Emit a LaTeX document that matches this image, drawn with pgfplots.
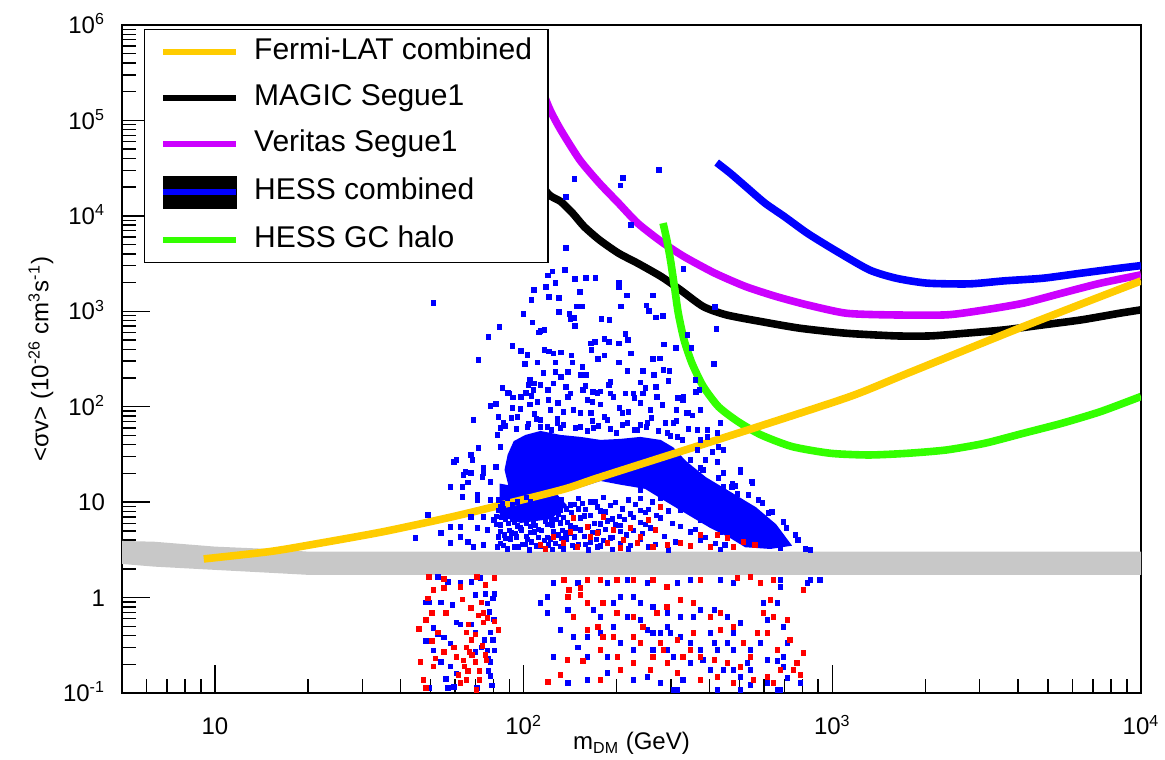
\documentclass[border=0pt]{standalone}
\usepackage{fontspec}
\setmainfont{Liberation Sans}
\usepackage{pgfplots}
\pgfplotsset{compat=1.18}
\definecolor{fermi}{HTML}{FFCC00}
\definecolor{veritas}{HTML}{CC00FF}
\definecolor{gchalo}{HTML}{33FF00}
\definecolor{hessblue}{HTML}{0000FF}
\definecolor{bandgray}{HTML}{C8C8C8}
\definecolor{ptblue}{HTML}{0000FF}
\definecolor{ptred}{HTML}{FF0000}
\begin{document}
\begin{tikzpicture}
\begin{axis}[
  scale only axis, width=509.5pt, height=334pt,
  xmode=log, ymode=log,
  xmin=5, xmax=10000, ymin=0.1, ymax=1000000,
  axis line style={line width=0.8pt},
  tick style={line width=0.7pt, black},
  tick align=inside, xtick pos=bottom, ytick pos=left,
  major tick length=14pt, minor tick length=7pt,
  xtick={10,100,1000,10000},
  xticklabels={10,10\textsuperscript{2},10\textsuperscript{3},10\textsuperscript{4}},
  minor xtick={6,7,8,9,20,30,40,50,60,70,80,90,200,300,400,500,600,700,800,900,2000,3000,4000,5000,6000,7000,8000,9000},
  ytick={0.1,1,10,100,1000,10000,100000,1000000},
  yticklabels={10\textsuperscript{-1},1,10,10\textsuperscript{2},10\textsuperscript{3},10\textsuperscript{4},10\textsuperscript{5},10\textsuperscript{6}},
  minor ytick={0.2,0.3,0.4,0.5,0.6,0.7,0.8,0.9,2,3,4,5,6,7,8,9,20,30,40,50,60,70,80,90,200,300,400,500,600,700,800,900,2000,3000,4000,5000,6000,7000,8000,9000,20000,30000,40000,50000,60000,70000,80000,90000,200000,300000,400000,500000,600000,700000,800000,900000},
  ticklabel style={font=\fontsize{12}{14}\selectfont},
  xticklabel style={anchor=base, yshift=-21pt},
  yticklabel style={anchor=base east, xshift=-5pt, yshift=-4.3pt},
  label style={font=\fontsize{12}{14}\selectfont},
  xlabel={m\textsubscript{DM} (GeV)},
  ylabel={<σv> (10\textsuperscript{-26} cm\textsuperscript{3}s\textsuperscript{-1})},
  xlabel style={at={([yshift=-28.5pt]axis description cs:0.5,0)}, anchor=base},
  ylabel style={at={([xshift=-40.5pt]axis description cs:0,0.5)}, anchor=center},
  legend image code/.code={\draw[#1] (0pt,0pt) -- (36.5pt,0pt);},
  legend cell align=left,
  legend style={at={(0.0212,0.994)}, anchor=north west, draw=black, line width=0.6pt,
    fill=white, inner xsep=8pt, inner ysep=4pt, font=\fontsize{15}{18}\selectfont,
    row sep=8.5pt, nodes={inner sep=0pt, text height=11pt, text depth=3.5pt},
    /tikz/every odd column/.append style={column sep=7.5pt}},
  scatter/.style={only marks, mark=square*, mark size=1.15pt, mark options={solid, line width=0pt}, forget plot},
  limit/.style={line width=3.8pt, smooth, tension=0.4, forget plot},
]
\coordinate (sw) at (rel axis cs:0,0);
\coordinate (ne) at (rel axis cs:1,1);

% blue points: sparse upper cloud
\addplot[scatter, ptblue] coordinates {
(51,1230) (83.5,680) (77,535) (71.5,310) (100,940) (107,760) (106,1316) (108,1675) (118,1800) (120,2360)
(124,2600) (136,2710) (127,1980) (121,1410) (130,1380) (130,985) (147,2180) (159,2240) (171,2240) (152,1600)
(149,1120) (155,1120) (141,940) (142,830) (147,700) (146,850) (137,4600) (223,8000) (206,20900) (137,15800)
(204,1980) (204,1770) (216,1460) (207,1120) (179,830) (190,812) (262,1460) (250,1150) (255,1000) (268,860)
(283,890) (330,2770) (340,565) (285,450) (312,410) (350,410) (92,430) (98,385) (103,350) (101,280)
(111,290) (112,600) (113.5,620) (117,638) (117,394) (121,380) (125,360) (132,370) (127,290) (127,230)
(132,205) (139,230) (143,345) (144,290) (155,260) (153,215) (159,215) (165,460) (170,480) (183,510)
(189,480) (204,460) (214,580) (218,500) (166,394) (174,315) (183,345) (204,290) (223,360) (217,236)
(244,236) (262,315) (277,320) (284,243) (297,236) (239,180) (264,215) (269,160) (105,191) (108,175)
(113.5,170) (116,225) (102,140) (90,137) (92.5,125) (106,130) (120,150) (137,160) (142,137) (156,150)
(168,142) (177.5,145) (189,170) (191,137) (214,137) (227,137) (244,137) (330,127) (362,142)
(274,30300) (210,24800) (146,24300) (422,655) (413,280) (417,1110) (504,20.5) (550,16.5) (475,15.5)
(81.2,107.2) (97.8,94.7) (120.5,118) (134.7,88.2) (167.2,112.5) (204.6,97) (228.7,123.7) (281.6,104.6) (317,123.7) (352,81)
(85.5,157) (103.8,170) (125,175) (158.7,165) (191.2,182) (248.2,157) (294.4,186)
};
% blue points: fringe of the dense cloud
\addplot[scatter, ptblue] coordinates {
(89,140) (98,127) (92,97) (105,105) (111,112) (113.5,72.7) (122.3,92.5) (129,110) (139,127) (145,92.5)
(161,118) (165,86) (177.5,105) (195.5,127) (209,86) (217,67.6) (239,110) (257.5,92.5) (271,127) (306,67.6)
(329,118) (342,86) (366,57.1) (374,92.5) (434,67.6) (78.2,102) (68.9,72.7) (83,78.1) (95.6,78.1) (103,61.4)
(119.6,61.4) (152.9,61.4) (187,72.7) (252,67.6) (292.5,53.1) (86.1,67.6) (128.9,67.6) (168.4,59.9) (234,57.1) (315,48.2)
(173.6,139.5) (107.7,150) (425,53.1) (394,48.2) (347,27.7) (425,26.4) (504,21.8) (551,15.9) (474,14.4) (515,8.66)
(444,20.3) (382,21.8) (366,35.2) (444,35.2) (360,191) (371,150) (313,92.5) (339,86) (394,57.1) (428,37.9)
(388,27.7) (467,11.4)
(87.4,62.9) (94.9,58.5) (103.8,66) (113.5,61.4) (123.2,57.1) (134.7,64.5) (147.3,59.9) (161,55.8) (174.9,62.9) (191.2,58.5)
(209,64.5) (228.7,57.1) (250,61.4) (273.2,55.8) (299,49.4) (326.8,44.9)
(91.4,76.3) (108.5,84) (128.9,74.5) (152.9,86) (182.9,78.1) (218.6,88.2) (259.4,76.3) (312.8,71)
(84.2,59.9) (110.1,74.5) (131.7,59.9) (167.2,71) (199.9,53.1) (239,64.5) (288,67.6) (342,58.5) (374,44.9) (409,33.5)
(444,14.4) (493,12.2) (576,10.5) (621,7.69) (710,5.36) (776,4.02) (849,3.16)
(374,6.5) (434,4.9) (322,8.28) (277.5,11.1) (239,13.4)
(59.3,26.4) (67.4,31.2) (68.4,27.7) (74.2,22.9) (64.9,20.8) (63.4,14.4) (73.7,18.4) (81.2,23.4) (84.2,37.9) (82.4,50.6)
(71.5,37) (78.2,16.3) (71,10.5) (78.2,10.5) (58,5.49) (62.5,4.32) (65.9,3.83) (68.9,3.40) (74.2,3.56) (76.5,5.11)
(71,5.36) (62.5,5.49) (58,3.74) (80,6.50) (83,4.32) (82.4,3.40) (74.2,6.99) (84.2,8.87) (67.4,6.99) (67.4,20.3)
(60.6,27.7) (58,14.4) (63.4,11.4) (53.9,4.75) (44.7,4.22) (48.9,7.32) (63.8,19.3) (65.9,16.0) (74.2,20.3) (59.5,26.4) (71,11.9)
(374,22.9) (428,17.9) (485,14.8) (535,11.9) (594,9.77) (639,7.89) (694,6.20) (759,4.53) (818,3.24) (450,3.56)
(607,4.02) (679,3.31)
};
% blue points: between the cloud and the band
\addplot[scatter, ptblue] coordinates {
(83,10.5) (88.7,10.9) (95.6,10.1) (102.3,11.2) (117.8,9.9) (132.7,10.5) (150.6,10.9) (164.7,10.1) (181.5,11.2) (198.5,9.9) (218.6,10.5) (239,10.9) (261.4,10.1)
(86.1,8.52) (92,9.49) (98.5,8.34) (110.1,8.87) (124.1,9.22) (137.7,8.52) (146.2,9.49) (158.7,8.34) (173.6,8.87) (191.2,9.22) (209,8.52) (230.4,9.49) (253.6,8.34) (277.5,8.87)
(81.8,7.07) (90.7,7.52) (97,7.82) (104.5,7.22) (113.5,8.05) (120.5,7.07) (129.8,7.52) (143,7.82) (164.7,7.22) (177.5,8.05) (204.6,7.07) (222,7.52) (248.2,7.82) (269.4,7.22) (294.4,8.05)
(87.4,6.6) (93.4,6.1) (100.7,6.8) (107.7,5.97) (117.8,6.35) (127.8,6.6) (138.8,6.1) (152.9,6.8) (169.7,5.97) (187,6.35) (212.2,6.6) (239,6.1) (277.5,6.8) (303.5,5.97)
(84.2,5.74) (90,5.04) (97.8,5.36) (105.3,5.57) (111.8,5.15) (124.1,5.74) (133.7,5.04) (147.3,5.36) (162.2,5.57) (184.2,5.15) (198.5,5.74) (227,5.04) (257.5,5.36) (322,5.57) (360,5.15)
(86.7,4.53) (94.2,4.71) (102.3,4.35) (108.5,4.85) (119.6,4.26) (129.8,4.53) (141.9,4.71) (157.5,4.35) (174.9,4.85) (194,4.26) (215.5,4.53) (242.6,4.71) (285.8,4.35) (347,4.85) (388,4.26)
(84.2,3.68) (90.7,4.1) (99.2,3.6) (106,3.83) (116.9,3.98) (126.9,3.68) (137.7,4.1) (150.6,3.6) (164.7,3.83) (181.5,3.98) (206,3.68) (239,4.1) (267.4,3.6) (310.5,3.83) (374,3.98) (418,3.68)
(88.7,3.24) (96.3,3.37) (104.5,3.17) (113.5,3.45) (124.1,3.2) (134.7,3.24) (147.3,3.37) (162.2,3.17) (177.5,3.45) (194,3.2) (218.6,3.24) (253.6,3.37) (294.4,3.17) (347,3.45) (434,3.2)
(85.5,9.65) (92,9.3) (105.3,10.0) (114.3,9.45) (127.8,9.9) (141.9,9.3) (155.2,9.65) (171,10.0)
(83,8.18) (88.7,7.9) (94.9,8.5) (101.5,8.0) (107.7,8.35) (117.8,7.85) (131.7,8.18) (150.6,8.5) (184.2,7.9) (239,8.18)
(84.8,6.9) (92,6.65) (98.5,7.15) (105.3,6.75) (111.8,7.05) (123.2,6.7) (134.7,6.9) (157.5,7.15) (194,6.65) (227,6.9)
(81.8,5.83) (89.4,6.0) (95.6,5.65) (102.3,5.95) (109.3,5.7) (119.6,5.83) (131.7,6.05) (141.9,5.65) (177.5,5.9) (206,5.7) (248.2,5.83)
(84.2,4.93) (91.4,4.75) (98.5,5.1) (105.3,4.8) (114.3,5.05) (125,4.93) (136.7,4.75) (152.9,5.1) (167.2,4.8) (206,4.93)
(87.4,4.17) (94.9,4.3) (103,4.05) (111.8,4.25) (122.3,4.1) (132.7,4.17) (146.2,4.3) (172.3,4.05) (191.2,4.2)
(86.1,3.52) (93.4,3.4) (101.5,3.6) (110.1,3.45) (120.5,3.55) (131.7,3.42) (144,3.52) (158.7,3.6) (173.6,3.4) (222,3.52)
};
% blue points below the band
\addplot[scatter, ptblue] coordinates {
(48.2,0.89) (49.3,0.89) (53.9,0.89) (58.8,0.84) (60.6,0.55) (62.5,0.52) (67.7,0.52) (69.9,0.43) (78.2,0.43) (76.4,0.87)
(79.6,0.98) (80.4,1.09) (75.3,1.09) (69.9,1.06) (52.7,0.41) (55.1,0.38) (58,0.33) (51.1,0.28) (53.9,0.21) (58,0.19)
(60.6,0.16) (76.4,0.28) (77,0.23) (78.2,0.21) (77,0.17) (78.2,0.15) (69.9,0.27) (73,0.30) (56,0.14) (59.5,0.115)
(56.9,0.112) (79.6,0.36) (49.3,0.112) (70.6,0.112) (48.2,0.35) (51.1,0.48) (62.5,1.42) (67.7,1.46) (56.9,1.46) (52.7,1.65)
(77.6,0.71) (80,0.59) (74.7,0.36) (80.4,0.28) (79,0.12) (72.6,1.6)
(150,1.42) (187,1.42) (217,1.53) (252,1.42) (315,1.42) (347,1.53) (434,1.53) (478,1.42) (679,1.53) (849,1.53)
(914,1.53) (830,1.42) (679,1.29) (664,0.88) (598,0.88) (617,0.583) (694,0.49) (716,0.334) (694,0.239) (664,0.217)
(694,0.187) (716,0.144) (679,0.107) (617,0.127) (543,0.121) (543,0.174) (504,0.147) (478,0.174) (444,0.174) (403,0.174)
(382,0.222) (374,0.282) (347,0.334) (322,0.386) (299,0.425) (292.5,0.49) (277.5,0.425) (263,0.425) (252,0.457) (239,0.583)
(217,0.627) (195.5,0.88) (206,1.01) (227,1.01) (239,0.88) (263,0.80) (292.5,0.69) (322,0.627) (355,0.627) (374,0.741)
(415,0.741) (457,0.627) (478,0.425) (457,0.334) (478,0.282) (543,0.282) (531,0.206) (425,0.282) (415,0.334) (347,0.206)
(329,0.137) (315,0.107) (277.5,0.127) (252,0.147) (227,0.137) (187,0.162) (161,0.137) (139,0.127) (125,0.239) (145,0.386)
(161,0.386) (177.5,0.425) (195.5,0.49) (206,0.334) (227,0.282) (187,0.239) (161,0.239) (150,0.30) (131.7,0.457) (119.6,0.69)
(113.5,0.88) (139,0.741) (168.4,0.741) (177.5,0.627) (125,1.42) (119.6,1.01) (292.5,0.282) (306,0.239) (263,0.282) (403,0.425)
(504,0.542) (585,0.334) (617,0.222) (306,0.107) (425,0.107) (504,0.107) (664,0.107) (788,0.127)
};
% dense core of the blue cloud
\addplot[fill=ptblue, draw=ptblue, line width=1pt, forget plot] coordinates {
(89.4,31.2) (93.4,42.8) (101.5,49.4) (113.5,54.4) (131.7,49.4) (152.9,47.1) (177.5,43.8) (206,44.9) (239,47.1) (277.5,43.8)
(303.5,36.9) (334.5,26.4) (388,17.9) (467,12.5) (563,8.69) (654,5.77) (731,3.56) (630,3.31) (523,3.45) (467,4.32)
(403,5.5) (347,7.32) (288,10.5) (248,14.1) (206,15.6) (177.5,17.1) (147.3,14.1) (122.3,12.6) (105.3,11.4) (90.7,13.4)
(87.4,21.8)
} -- cycle;
\addplot[fill=ptblue, draw=ptblue, line width=1pt, forget plot] coordinates {
(84.2,15.2) (126.9,12.1) (136.7,9.3) (122.3,6.8) (97.8,6.2) (84.2,7.32)
} -- cycle;
% red points
\addplot[scatter, ptred] coordinates {
(49.3,1.65) (55.1,1.57) (51.1,1.20) (55.1,1.26) (62.5,1.29) (70.6,1.65) (75.3,1.36) (80.4,1.60) (48.9,0.98) (50.5,0.69)
(56,0.69) (48.2,0.58) (45.8,0.47) (73,0.89) (74.1,0.69) (76.4,0.61) (80.4,0.56) (74.1,0.55) (65.4,0.43) (69.9,0.41)
(67.7,0.36) (65.4,0.30) (66.7,0.27) (69.9,0.21) (64.4,0.19) (65.9,0.17) (71.9,0.17) (47.4,0.137) (48.2,0.112) (51.1,0.19)
(51.9,0.23) (46.4,0.21) (55.1,0.27) (60.6,0.24) (62.5,0.127) (65.4,0.137) (71.9,0.137) (59.5,0.30) (50.5,0.35) (52.7,0.43)
(82.8,0.46) (63.4,0.95) (67.4,0.78) (71.4,0.65) (66.2,0.52) (73.5,0.31) (63.8,0.22) (68.1,0.25) (75.3,0.25) (70.3,0.107)
(61.5,0.154) (75.9,0.22)
(135,1.53) (140,1.20) (153,1.26) (161,1.53) (177.5,1.53) (201,1.53) (227,1.53) (263,1.53) (292,1.29) (374,1.53)
(493,1.61) (543,1.65) (585,1.42) (644,1.53) (806,1.20) (630,0.945) (598,0.69) (644,0.63) (617,0.425) (731,0.359)
(806,0.262) (748,0.174) (788,0.154) (679,0.174) (617,0.147) (543,0.239) (515,0.334) (572,0.425) (478,0.49) (434,0.457)
(403,0.63) (434,0.69) (355,0.88) (322,0.945) (292,0.80) (271,0.69) (244,0.49) (227,0.63) (201,0.69) (181,0.88)
(161,0.88) (153,1.06) (139,1.01) (145,0.63) (161,0.457) (174,0.49) (181,0.386) (195.5,0.386) (227,0.386) (239,0.334)
(277.5,0.334) (284,0.282) (315,0.359) (347,0.282) (374,0.239) (415,0.222) (457,0.206) (504,0.187) (555,0.137) (644,0.127)
(478,0.127) (425,0.147) (374,0.137) (315,0.162) (292.5,0.206) (257.5,0.174) (227,0.206) (206,0.174) (177.5,0.137) (156,0.217)
(138.8,0.222) (131.7,0.154) (120,0.131) (177.5,0.282) (201.5,0.239) (263,0.239) (329,0.239) (355,0.425) (716,0.583) (664,0.282)
(770,0.206)
(181.5,6.99) (222,5.36) (239,4.32) (277.5,8.87) (113.5,3.56) (125,4.32) (134.7,3.74) (149.6,3.40) (161,5.49) (164.7,4.32)
(187,3.74) (210.7,4.02) (234,3.74) (263,3.40) (292.5,3.56) (322,3.74) (374,4.53) (425,4.53) (457,4.22) (478,3.40)
(515,3.83) (145,6.82) (173.6,4.75) (195.5,5.11) (253.6,6.5) (347,3.45) (403,3.4) (563,3.56) (206,3.3) (141.9,4.9)
(267.4,5.11) (117.8,3.24)
};
% thermal relic band
\addplot[fill=bandgray, draw=none, forget plot] coordinates {
(5,3.92) (6.35,3.85) (10,3.42) (15,3.23) (20,3.03) (10000,3.03)
(10000,1.73) (20,1.73) (15,1.82) (10,1.95) (6.35,2.11) (5,2.25)
} -- cycle;
% MAGIC Segue1
\addplot[limit, black] coordinates {
(110,25000) (121,16600) (132,14100) (144,10700) (157,7730) (176,5600) (203,4060) (234,3190) (279,2310) (322,1676)
(382,1120) (454,916) (588,780) (784,665) (1107,589) (1610,552) (2085,552) (2700,589) (3600,638) (4810,720)
(6410,813) (8540,955) (10000,1035)
};
% Veritas Segue1
\addplot[limit, veritas] coordinates {
(110,300000) (121,135000) (131.9,79600) (152,38600) (176,22000) (203,13600) (234,8390) (279,5380) (331,3740) (416,2510)
(524,1816) (659,1426) (830,1167) (1107,955) (1520,917) (2340,917) (3120,1035) (4160,1216) (5540,1549) (7400,1972)
(10000,2410)
};
% HESS combined
\addplot[limit, hessblue] coordinates {
(422,36200) (467,28000) (524,20300) (605,13600) (699,9840) (830,6580) (1015,4400) (1316,2720) (1610,2220) (2030,1972)
(2780,1937) (3600,2083) (4810,2220) (6410,2510) (8540,2830) (10000,3010)
};
% HESS GC halo
\addplot[limit, gchalo] coordinates {
(283,8390) (291,5600) (299,3460) (308,1816) (317,955) (331,501) (351,286) (382,163) (428,100) (495,69.8)
(588,50.6) (741,38.2) (987,32.5) (1316,31.2) (1754,32.5) (2340,35.2) (3120,41.4) (4160,52.7) (5540,67) (7400,88.9)
(10000,128)
};
% Fermi-LAT combined
\addplot[limit, fermi] coordinates {
(9.2,2.54) (15,3.03) (20.3,3.56) (35.2,4.91) (62.4,7.35) (132,13.4) (179,18.5) (555,59.5) (1143,128) (1754,224)
(4160,692) (10000,2080)
};
\addlegendimage{fermi, line width=3pt}
\addlegendentry{Fermi-LAT combined}
\addlegendimage{black, line width=3pt}
\addlegendentry{MAGIC Segue1}
\addlegendimage{veritas, line width=3pt}
\addlegendentry{Veritas Segue1}
\addlegendimage{legend image code/.code={\fill[black] (0pt,-8pt) rectangle (36.5pt,8pt); \draw[hessblue, line width=3pt] (0pt,0pt) -- (36.5pt,0pt);}}
\addlegendentry{HESS combined}
\addlegendimage{gchalo, line width=3pt}
\addlegendentry{HESS GC halo}
\end{axis}
\pgfresetboundingbox
\path ([shift={(-61pt,-33.5pt)}]sw) rectangle ([shift={(12pt,12.5pt)}]ne);
\end{tikzpicture}
\end{document}
